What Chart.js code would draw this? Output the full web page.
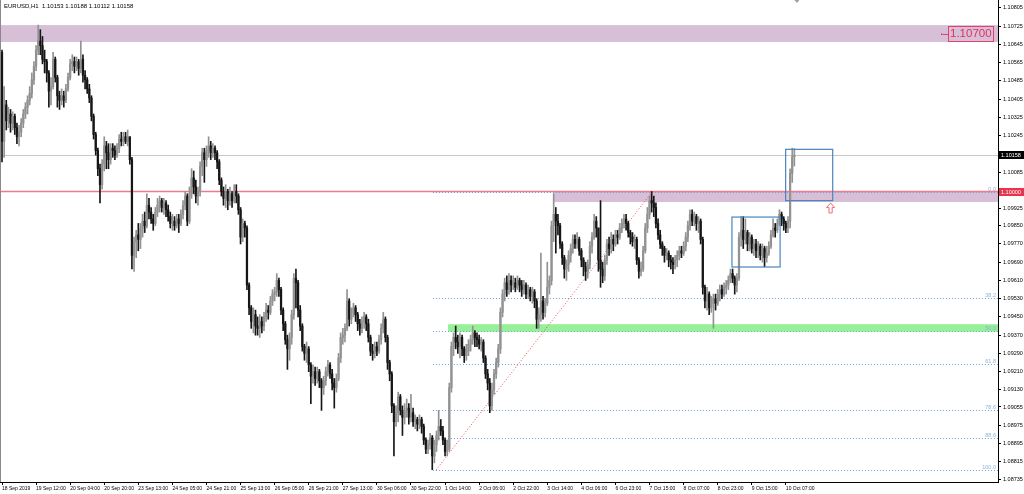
<!DOCTYPE html>
<html>
<head>
<meta charset="utf-8">
<title>EURUSD,H1</title>
<script src="https://cdn.jsdelivr.net/npm/chart.js@4.4.1/dist/chart.umd.min.js"></script>
<style>
    html, body { margin: 0; padding: 0; background: #fff; }
    #chart { display: block; }
</style>
</head>
<body>
<canvas id="chart" width="1024" height="494"></canvas>
<script>
// EURUSD H1, 18 Sep 20:00 -> 10 Oct 11:00 (one entry per hourly bar)
const symbolTitle = 'EURUSD,H1  1.10153 1.10188 1.10112 1.10158';

// open of the first bar; every other open is the previous close
const firstOpen = 1.1061;

const closes = [
    1.1022, 1.1038, 1.1031, 1.1034, 1.1030, 1.1033, 1.1028, 1.1024, 1.1026, 1.1030,
    1.1034, 1.1037, 1.1040, 1.1043, 1.1049, 1.1055, 1.1062, 1.1066, 1.1064, 1.1058,
    1.1057, 1.1052, 1.1044, 1.1046, 1.1058, 1.1050, 1.1042, 1.1040, 1.1042, 1.1040,
    1.1045, 1.1050, 1.1056, 1.1057, 1.1055, 1.1057, 1.1054, 1.1058, 1.1051, 1.1049,
    1.1045, 1.1041, 1.1033, 1.1025, 1.1018, 1.1010, 1.1003, 1.1012, 1.1020, 1.1017,
    1.1014, 1.1019, 1.1018, 1.1016, 1.1019, 1.1023, 1.1022, 1.1024, 1.1022, 1.1024,
    1.1014, 1.0972, 1.0978, 1.0981, 1.0979, 1.0984, 1.0987, 1.0985, 1.0994, 1.0991,
    1.0988, 1.0986, 1.0991, 1.0994, 1.0996, 1.0993, 1.0995, 1.0992, 1.0989, 1.0986,
    1.0987, 1.0985, 1.0988, 1.0986, 1.0990, 1.0994, 1.0998, 1.0987, 1.0999, 1.1006,
    1.1002, 1.0998, 1.1000, 1.1011, 1.1017, 1.1014, 1.1018, 1.1020, 1.1017, 1.1019,
    1.1017, 1.1013, 1.1005, 1.1000, 1.0997, 1.1000, 1.0996, 1.0999, 1.0996, 1.1000,
    1.0998, 1.0992, 1.0980, 1.0986, 1.0984, 1.0959, 1.0949, 1.0943, 1.0946, 1.0941,
    1.0940, 1.0943, 1.0941, 1.0945, 1.0948, 1.0947, 1.0952, 1.0955, 1.0956, 1.0961,
    1.0957, 1.0948, 1.0942, 1.0935, 1.0931, 1.0936, 1.0946, 1.0962, 1.0960, 1.0948,
    1.0941, 1.0932, 1.0929, 1.0931, 1.0924, 1.0919, 1.0921, 1.0918, 1.0921, 1.0917,
    1.0914, 1.0917, 1.0921, 1.0924, 1.0920, 1.0916, 1.0914, 1.0918, 1.0927, 1.0936,
    1.0937, 1.0940, 1.0952, 1.0944, 1.0947, 1.0949, 1.0946, 1.0942, 1.0940, 1.0943,
    1.0945, 1.0942, 1.0936, 1.0930, 1.0929, 1.0932, 1.0930, 1.0935, 1.0940, 1.0944,
    1.0936, 1.0925, 1.0920, 1.0906, 1.0899, 1.0903, 1.0910, 1.0904, 1.0901, 1.0904,
    1.0905, 1.0901, 1.0903, 1.0899, 1.0900, 1.0898, 1.0900, 1.0897, 1.0891, 1.0887,
    1.0889, 1.0892, 1.0884, 1.0889, 1.0893, 1.0897, 1.0895, 1.0891, 1.0886, 1.0887,
    1.0914, 1.0932, 1.0936, 1.0934, 1.0932, 1.0936, 1.0931, 1.0928, 1.0930, 1.0933,
    1.0935, 1.0938, 1.0936, 1.0935, 1.0933, 1.0934, 1.0927, 1.0920, 1.0916, 1.0906,
    1.0913, 1.0920, 1.0925, 1.0931, 1.0947, 1.0955, 1.0960, 1.0957, 1.0961, 1.0959,
    1.0960, 1.0958, 1.0961, 1.0959, 1.0957, 1.0959, 1.0955, 1.0957, 1.0954, 1.0956,
    1.0952, 1.0944, 1.0946, 1.0952, 1.0947, 1.0951, 1.0958, 1.0961, 1.0985, 1.0990,
    1.0987, 1.0985, 1.0977, 1.0971, 1.0966, 1.0968, 1.0972, 1.0975, 1.0979, 1.0977,
    1.0979, 1.0974, 1.0970, 1.0967, 1.0965, 1.0968, 1.0976, 1.0980, 1.0987, 1.0984,
    1.0970, 1.0966, 1.0963, 1.0970, 1.0977, 1.0975, 1.0979, 1.0977, 1.0981, 1.0980,
    1.0984, 1.0986, 1.0988, 1.0986, 1.0982, 1.0980, 1.0978, 1.0979, 1.0970, 1.0965,
    1.0966, 1.0974, 1.0984, 1.0990, 1.0996, 1.0995, 1.0993, 1.0986, 1.0981, 1.0977,
    1.0975, 1.0972, 1.0973, 1.0970, 1.0969, 1.0968, 1.0970, 1.0972, 1.0974, 1.0973,
    1.0976, 1.0980, 1.0985, 1.0990, 1.0987, 1.0989, 1.0986, 1.0987, 1.0979, 1.0958,
    1.0952, 1.0955, 1.0949, 1.0951, 1.0953, 1.0951, 1.0955, 1.0957, 1.0955, 1.0958,
    1.0959, 1.0961, 1.0964, 1.0962, 1.0959, 1.0962, 1.0980, 1.0983, 1.0979, 1.0982,
    1.0977, 1.0980, 1.0975, 1.0977, 1.0974, 1.0976, 1.0972, 1.0975, 1.0971, 1.0973,
    1.0976, 1.0981, 1.0984, 1.0983, 1.0986, 1.0990, 1.0988, 1.0986, 1.0984, 1.0987,
    1.1008, 1.10153, 1.10158
];

const highs = [
    1.1062, 1.1046, 1.1040, 1.1037, 1.1036, 1.1035, 1.1034, 1.1030, 1.1029, 1.1032,
    1.1036, 1.1039, 1.1042, 1.1046, 1.1052, 1.1057, 1.1064, 1.1073, 1.1071, 1.1068,
    1.1062, 1.1058, 1.1053, 1.1050, 1.1061, 1.1059, 1.1051, 1.1044, 1.1045, 1.1044,
    1.1047, 1.1052, 1.1058, 1.1060, 1.1059, 1.1059, 1.1058, 1.1066, 1.1060, 1.1053,
    1.1050, 1.1047, 1.1042, 1.1034, 1.1026, 1.1019, 1.1012, 1.1014, 1.1024, 1.1022,
    1.1021, 1.1021, 1.1021, 1.1020, 1.1021, 1.1025, 1.1026, 1.1026, 1.1026, 1.1027,
    1.1024, 1.1015, 1.0980, 1.0983, 1.0986, 1.0986, 1.0990, 1.0991, 1.0999, 1.0997,
    1.0993, 1.0990, 1.0993, 1.0997, 1.0998, 1.0997, 1.0997, 1.0996, 1.0994, 1.0991,
    1.0990, 1.0989, 1.0990, 1.0990, 1.0992, 1.0996, 1.1000, 1.0999, 1.1002, 1.1010,
    1.1009, 1.1005, 1.1002, 1.1013, 1.1019, 1.1019, 1.1020, 1.1024, 1.1022, 1.1021,
    1.1020, 1.1018, 1.1014, 1.1006, 1.1002, 1.1003, 1.1001, 1.1002, 1.1000, 1.1003,
    1.1003, 1.0999, 1.0993, 1.0988, 1.0987, 1.0985, 1.0960, 1.0950, 1.0949, 1.0948,
    1.0945, 1.0946, 1.0945, 1.0947, 1.0951, 1.0950, 1.0954, 1.0957, 1.0958, 1.0964,
    1.0962, 1.0958, 1.0949, 1.0943, 1.0937, 1.0938, 1.0948, 1.0964, 1.0966, 1.0961,
    1.0950, 1.0942, 1.0933, 1.0934, 1.0932, 1.0925, 1.0924, 1.0923, 1.0923, 1.0922,
    1.0918, 1.0919, 1.0923, 1.0926, 1.0925, 1.0922, 1.0918, 1.0920, 1.0929, 1.0938,
    1.0940, 1.0942, 1.0957, 1.0953, 1.0949, 1.0951, 1.0950, 1.0947, 1.0944, 1.0945,
    1.0947, 1.0946, 1.0944, 1.0937, 1.0933, 1.0934, 1.0934, 1.0937, 1.0942, 1.0947,
    1.0945, 1.0937, 1.0926, 1.0921, 1.0907, 1.0906, 1.0912, 1.0911, 1.0906, 1.0907,
    1.0909, 1.0907, 1.0911, 1.0905, 1.0902, 1.0901, 1.0902, 1.0901, 1.0898, 1.0892,
    1.0891, 1.0894, 1.0893, 1.0891, 1.0895, 1.0904, 1.0900, 1.0897, 1.0892, 1.0891,
    1.0916, 1.0934, 1.0938, 1.0941, 1.0937, 1.0938, 1.0937, 1.0932, 1.0933, 1.0935,
    1.0937, 1.0941, 1.0939, 1.0938, 1.0937, 1.0936, 1.0935, 1.0928, 1.0922, 1.0918,
    1.0916, 1.0922, 1.0927, 1.0933, 1.0949, 1.0957, 1.0962, 1.0963, 1.0964, 1.0963,
    1.0963, 1.0962, 1.0963, 1.0962, 1.0961, 1.0961, 1.0960, 1.0959, 1.0958, 1.0958,
    1.0957, 1.0953, 1.0949, 1.0973, 1.0954, 1.0953, 1.0969, 1.0963, 1.0987, 1.0999,
    1.0993, 1.0990, 1.0986, 1.0978, 1.0972, 1.0970, 1.0974, 1.0977, 1.0981, 1.0981,
    1.0982, 1.0980, 1.0975, 1.0971, 1.0969, 1.0970, 1.0978, 1.0982, 1.0990, 1.0989,
    1.0984, 1.0996, 1.0969, 1.0972, 1.0979, 1.0980, 1.0982, 1.0981, 1.0983, 1.0983,
    1.0986, 1.0988, 1.0990, 1.0990, 1.0987, 1.0983, 1.0982, 1.0981, 1.0980, 1.0971,
    1.0969, 1.0976, 1.0986, 1.0993, 1.0998, 1.1000, 1.0998, 1.0995, 1.0988, 1.0983,
    1.0978, 1.0976, 1.0975, 1.0974, 1.0972, 1.0971, 1.0972, 1.0974, 1.0976, 1.0976,
    1.0978, 1.0982, 1.0987, 1.0992, 1.0992, 1.0991, 1.0990, 1.0989, 1.0988, 1.0980,
    1.0959, 1.0958, 1.0956, 1.0954, 1.0955, 1.0955, 1.0957, 1.0959, 1.0959, 1.0960,
    1.0961, 1.0963, 1.0966, 1.0966, 1.0963, 1.0964, 1.0982, 1.0989, 1.0989, 1.0988,
    1.0983, 1.0982, 1.0981, 1.0979, 1.0979, 1.0978, 1.0977, 1.0977, 1.0976, 1.0976,
    1.0978, 1.0983, 1.0988, 1.0986, 1.0988, 1.0992, 1.0991, 1.0989, 1.0987, 1.0989,
    1.1010, 1.1019, 1.10188
];

const lows = [
    1.1013, 1.1015, 1.1027, 1.1028, 1.1026, 1.1027, 1.1025, 1.1021, 1.1020, 1.1024,
    1.1028, 1.1032, 1.1034, 1.1038, 1.1041, 1.1047, 1.1053, 1.1060, 1.1060, 1.1056,
    1.1052, 1.1048, 1.1037, 1.1038, 1.1045, 1.1048, 1.1037, 1.1036, 1.1038, 1.1037,
    1.1039, 1.1044, 1.1049, 1.1053, 1.1052, 1.1053, 1.1051, 1.1052, 1.1048, 1.1045,
    1.1043, 1.1039, 1.1031, 1.1023, 1.1016, 1.1007, 1.0995, 1.1001, 1.1009, 1.1010,
    1.1010, 1.1012, 1.1015, 1.1014, 1.1015, 1.1017, 1.1020, 1.1020, 1.1021, 1.1020,
    1.1012, 1.0966, 1.0965, 1.0971, 1.0974, 1.0975, 1.0980, 1.0982, 1.0984, 1.0988,
    1.0986, 1.0983, 1.0985, 1.0989, 1.0991, 1.0991, 1.0990, 1.0989, 1.0987, 1.0984,
    1.0983, 1.0983, 1.0984, 1.0982, 1.0985, 1.0988, 1.0992, 1.0985, 1.0986, 1.0997,
    1.0999, 1.0995, 1.0994, 1.0998, 1.1007, 1.1004, 1.1011, 1.1015, 1.1014, 1.1015,
    1.1014, 1.1010, 1.1003, 1.0998, 1.0994, 1.0993, 1.0992, 1.0994, 1.0993, 1.0995,
    1.0995, 1.0990, 1.0977, 1.0978, 1.0980, 1.0957, 1.0946, 1.0940, 1.0938, 1.0937,
    1.0937, 1.0936, 1.0938, 1.0939, 1.0943, 1.0944, 1.0946, 1.0950, 1.0952, 1.0954,
    1.0954, 1.0946, 1.0939, 1.0933, 1.0922, 1.0926, 1.0933, 1.0944, 1.0949, 1.0945,
    1.0939, 1.0930, 1.0926, 1.0925, 1.0921, 1.0907, 1.0916, 1.0915, 1.0916, 1.0914,
    1.0904, 1.0911, 1.0915, 1.0919, 1.0918, 1.0913, 1.0905, 1.0912, 1.0917, 1.0925,
    1.0933, 1.0934, 1.0939, 1.0941, 1.0942, 1.0945, 1.0943, 1.0939, 1.0937, 1.0938,
    1.0940, 1.0939, 1.0934, 1.0928, 1.0926, 1.0927, 1.0928, 1.0929, 1.0933, 1.0938,
    1.0934, 1.0922, 1.0917, 1.0903, 1.0884, 1.0897, 1.0899, 1.0902, 1.0893, 1.0898,
    1.0901, 1.0898, 1.0899, 1.0897, 1.0896, 1.0895, 1.0896, 1.0894, 1.0889, 1.0885,
    1.0885, 1.0887, 1.0878, 1.0881, 1.0886, 1.0891, 1.0893, 1.0889, 1.0884, 1.0884,
    1.0886, 1.0912, 1.0928, 1.0931, 1.0929, 1.0927, 1.0928, 1.0925, 1.0926, 1.0928,
    1.0930, 1.0933, 1.0932, 1.0932, 1.0931, 1.0930, 1.0925, 1.0918, 1.0913, 1.0903,
    1.0904, 1.0911, 1.0918, 1.0923, 1.0929, 1.0945, 1.0952, 1.0954, 1.0955, 1.0956,
    1.0957, 1.0956, 1.0957, 1.0956, 1.0954, 1.0955, 1.0953, 1.0953, 1.0952, 1.0951,
    1.0949, 1.0940, 1.0940, 1.0943, 1.0944, 1.0945, 1.0950, 1.0955, 1.0959, 1.0978,
    1.0973, 1.0981, 1.0975, 1.0968, 1.0962, 1.0961, 1.0965, 1.0969, 1.0973, 1.0975,
    1.0975, 1.0972, 1.0967, 1.0963, 1.0961, 1.0962, 1.0966, 1.0973, 1.0979, 1.0980,
    1.0965, 1.0958, 1.0960, 1.0961, 1.0968, 1.0972, 1.0973, 1.0974, 1.0976, 1.0977,
    1.0979, 1.0982, 1.0984, 1.0983, 1.0980, 1.0977, 1.0976, 1.0975, 1.0968, 1.0962,
    1.0963, 1.0965, 1.0973, 1.0982, 1.0988, 1.0991, 1.0989, 1.0984, 1.0979, 1.0975,
    1.0972, 1.0969, 1.0970, 1.0967, 1.0966, 1.0964, 1.0966, 1.0967, 1.0970, 1.0971,
    1.0972, 1.0974, 1.0978, 1.0983, 1.0985, 1.0985, 1.0983, 1.0982, 1.0977, 1.0955,
    1.0949, 1.0948, 1.0946, 1.0947, 1.0940, 1.0948, 1.0950, 1.0952, 1.0953, 1.0954,
    1.0955, 1.0957, 1.0960, 1.0960, 1.0955, 1.0956, 1.0961, 1.0976, 1.0975, 1.0977,
    1.0974, 1.0974, 1.0973, 1.0972, 1.0971, 1.0971, 1.0970, 1.0969, 1.0967, 1.0969,
    1.0972, 1.0975, 1.0980, 1.0980, 1.0982, 1.0985, 1.0985, 1.0983, 1.0982, 1.0982,
    1.0984, 1.1004, 1.10112
];

// time axis labels, one every 16 bars
const xTickBars = [0, 16, 32, 48, 64, 80, 96, 112, 128, 144, 160, 176,
                   192, 208, 224, 240, 256, 272, 288, 304, 320, 336, 352, 368];
const xTickLabels = ['18 Sep 2019', '19 Sep 12:00', '20 Sep 04:00', '20 Sep 20:00',
    '23 Sep 13:00', '24 Sep 05:00', '24 Sep 21:00', '25 Sep 13:00', '26 Sep 05:00',
    '26 Sep 21:00', '27 Sep 13:00', '30 Sep 06:00', '30 Sep 22:00', '1 Oct 14:00',
    '2 Oct 06:00', '2 Oct 22:00', '3 Oct 14:00', '4 Oct 06:00', '6 Oct 23:00',
    '7 Oct 15:00', '8 Oct 07:00', '8 Oct 23:00', '9 Oct 15:00', '10 Oct 07:00'];

// price scale labels
const yTickValues = [1.10805, 1.10725, 1.10645, 1.10565, 1.10485, 1.10405, 1.10325,
    1.10245, 1.10085, 1.09925, 1.09850, 1.09770, 1.09690, 1.09610, 1.09530, 1.09450,
    1.09370, 1.09290, 1.09210, 1.09130, 1.09055, 1.08975, 1.08895, 1.08815, 1.08735];

// chart objects
const currentPrice = 1.10158;
const roundLevel = 1.10000;
const upperZone = [1.10730, 1.10656];
const upperZoneLabel = '1.10700';
const resistZone = [1.10000, 1.09954];
const supportZone = [1.09418, 1.09385];
const fibHigh = 1.09998;
const fibLow = 1.08779;
const fibLevels = [0, 38.2, 50, 61.8, 78.6, 88.6, 100];
const fibLabels = ['0.0', '38.2', '50.0', '61.8', '78.6', '88.6', '100.0'];
const trendFrom = [203.8, 1.08779];
const trendTo = [305.2, 1.09998];
const boxOne = [342.7, 365.3, 1.09888, 1.09669];
const boxTwo = [367.9, 390.0, 1.10185, 1.09960];
const arrowAt = [389.0, 1.09950];

// visible window
const xMin = -0.94, xMax = 467.6;
const yMin = 1.08726, yMax = 1.10840;

// bar anchors of the drawn objects
const resistFromBar = 258.7;
const supportFromBar = 209.4;
const fibFromBar = 202.3;
const labelBar = 444.6;
const shiftMarkerBar = 373.2;

const BULL = '#929292';
const BEAR = '#161616';
const FONT = 'Liberation Sans, Arial, sans-serif';

const opens = closes.map((c, i) => i === 0 ? firstOpen : closes[i - 1]);
const candleColors = closes.map((c, i) => c >= opens[i] ? BULL : BEAR);

const wickData = closes.map((c, i) => ({
    x: i,
    y: [Math.min(lows[i], opens[i], c), Math.max(highs[i], opens[i], c)]
}));
const bodyData = closes.map((c, i) => ({ x: i, y: [opens[i], c] }));

function priceLabel(ctx, a, y, text, bg, fg) {
    ctx.fillStyle = bg;
    ctx.fillRect(a.right + 1, Math.round(y) - 4, 25, 8);
    ctx.fillStyle = fg;
    ctx.font = '5.5px ' + FONT;
    ctx.textAlign = 'left';
    ctx.textBaseline = 'middle';
    ctx.fillText(text, a.right + 3, Math.round(y) + 0.5);
}

const mtObjects = {
    id: 'mtObjects',
    beforeDatasetsDraw(chart) {
        const { ctx, chartArea: a, scales: { x, y } } = chart;
        ctx.save();
        ctx.beginPath();
        ctx.rect(a.left, a.top, a.right - a.left, a.bottom - a.top);
        ctx.clip();

        // rectangles (drawn as background)
        const zone = (x0, top, bottom, color) => {
            const y0 = y.getPixelForValue(top);
            const y1 = y.getPixelForValue(bottom);
            ctx.fillStyle = color;
            ctx.fillRect(x0, y0, a.right - x0, y1 - y0);
        };
        zone(a.left, upperZone[0], upperZone[1], '#d8bfd8');
        zone(x.getPixelForValue(resistFromBar), resistZone[0], resistZone[1], '#d8bfd8');
        zone(x.getPixelForValue(supportFromBar), supportZone[0], supportZone[1], '#96f096');

        // current price line
        const yc = Math.round(y.getPixelForValue(currentPrice)) + 0.5;
        ctx.strokeStyle = '#c8c8c8';
        ctx.lineWidth = 1;
        ctx.beginPath();
        ctx.moveTo(a.left, yc);
        ctx.lineTo(a.right, yc);
        ctx.stroke();

        // 1.10000 line
        const yr = y.getPixelForValue(roundLevel);
        ctx.strokeStyle = '#ee7b8b';
        ctx.lineWidth = 1.4;
        ctx.beginPath();
        ctx.moveTo(a.left, yr);
        ctx.lineTo(a.right, yr);
        ctx.stroke();

        // fibonacci levels
        const fx = x.getPixelForValue(fibFromBar);
        ctx.setLineDash([1, 2]);
        ctx.lineWidth = 1;
        ctx.strokeStyle = '#6d9fd6';
        fibLevels.forEach(lv => {
            const py = Math.round(y.getPixelForValue(fibHigh - (fibHigh - fibLow) * lv / 100)) + 0.5;
            ctx.beginPath();
            ctx.moveTo(fx, py);
            ctx.lineTo(a.right, py);
            ctx.stroke();
        });

        // fib trend line
        ctx.strokeStyle = '#f24a4a';
        ctx.beginPath();
        ctx.moveTo(x.getPixelForValue(trendFrom[0]), y.getPixelForValue(trendFrom[1]));
        ctx.lineTo(x.getPixelForValue(trendTo[0]), y.getPixelForValue(trendTo[1]));
        ctx.stroke();
        ctx.setLineDash([]);

        ctx.fillStyle = '#8fb2d8';
        ctx.font = '5.5px ' + FONT;
        ctx.textAlign = 'right';
        ctx.textBaseline = 'bottom';
        fibLevels.forEach((lv, i) => {
            const py = y.getPixelForValue(fibHigh - (fibHigh - fibLow) * lv / 100);
            ctx.fillText(fibLabels[i], a.right - 2, py);
        });
        ctx.restore();
    },
    afterDatasetsDraw(chart) {
        const { ctx, chartArea: a, scales: { x, y } } = chart;
        ctx.save();

        // blue boxes
        ctx.strokeStyle = '#4a84be';
        ctx.lineWidth = 1.2;
        [boxOne, boxTwo].forEach(b => {
            const x0 = x.getPixelForValue(b[0]);
            const x1 = x.getPixelForValue(b[1]);
            const y0 = y.getPixelForValue(b[2]);
            const y1 = y.getPixelForValue(b[3]);
            ctx.strokeRect(x0, y0, x1 - x0, y1 - y0);
        });

        // arrow up
        const ax = x.getPixelForValue(arrowAt[0]);
        const ay = y.getPixelForValue(arrowAt[1]);
        ctx.strokeStyle = '#f06a7a';
        ctx.lineWidth = 1;
        ctx.beginPath();
        ctx.moveTo(ax, ay);
        ctx.lineTo(ax + 4, ay + 4.5);
        ctx.lineTo(ax + 1.6, ay + 4.5);
        ctx.lineTo(ax + 1.6, ay + 10);
        ctx.lineTo(ax - 1.6, ay + 10);
        ctx.lineTo(ax - 1.6, ay + 4.5);
        ctx.lineTo(ax - 4, ay + 4.5);
        ctx.closePath();
        ctx.stroke();

        // 1.10700 text label
        const lx = x.getPixelForValue(labelBar);
        const ly = y.getPixelForValue(1.10693);
        ctx.font = '11.5px ' + FONT;
        ctx.textAlign = 'left';
        ctx.textBaseline = 'middle';
        const tw = ctx.measureText(upperZoneLabel).width;
        ctx.strokeStyle = '#e0406a';
        ctx.strokeRect(Math.round(lx) - 0.5, Math.round(ly) - 7.5, Math.round(tw) + 3, 15);
        ctx.fillStyle = '#e0305e';
        ctx.fillText(upperZoneLabel, lx + 1, ly + 0.5);
        ctx.beginPath();
        ctx.moveTo(lx - 6, Math.round(ly) + 0.5);
        ctx.lineTo(lx, Math.round(ly) + 0.5);
        ctx.stroke();
        ctx.fillRect(lx - 8, Math.round(ly) - 0.5, 1.5, 1.5);

        // chart shift marker
        const sx = x.getPixelForValue(shiftMarkerBar);
        ctx.fillStyle = '#a0a0a0';
        ctx.beginPath();
        ctx.moveTo(sx - 2.5, a.top);
        ctx.lineTo(sx + 2.5, a.top);
        ctx.lineTo(sx, a.top + 3);
        ctx.closePath();
        ctx.fill();
        ctx.restore();
    },
    afterDraw(chart) {
        const { ctx, chartArea: a, scales: { y } } = chart;
        ctx.save();
        // window frame on the left
        ctx.strokeStyle = '#8a8a8a';
        ctx.lineWidth = 1;
        ctx.beginPath();
        ctx.moveTo(0.5, 0);
        ctx.lineTo(0.5, a.bottom);
        ctx.stroke();

        priceLabel(ctx, a, y.getPixelForValue(currentPrice), currentPrice.toFixed(5), '#000', '#fff');
        priceLabel(ctx, a, y.getPixelForValue(roundLevel), roundLevel.toFixed(5), '#e8344e', '#fff');

        ctx.fillStyle = '#000';
        ctx.font = '6px ' + FONT;
        ctx.textAlign = 'left';
        ctx.textBaseline = 'middle';
        ctx.fillText(symbolTitle, 4, 6.5);
        ctx.restore();
    }
};

const ctx = document.getElementById('chart');
new Chart(ctx, {
    type: 'bar',
    data: {
        datasets: [
            {
                label: 'wicks',
                data: wickData,
                backgroundColor: candleColors,
                barThickness: 1,
                grouped: false,
                order: 2
            },
            {
                label: 'bodies',
                data: bodyData,
                backgroundColor: candleColors,
                barThickness: 1.6,
                minBarLength: 1,
                grouped: false,
                order: 1
            }
        ]
    },
    options: {
        responsive: false,
        animation: false,
        devicePixelRatio: 1,
        events: [],
        layout: { padding: 0 },
        plugins: {
            legend: { display: false },
            tooltip: { enabled: false }
        },
        scales: {
            x: {
                type: 'linear',
                min: xMin,
                max: xMax,
                offset: false,
                afterFit(s) {
                    s.height = 12;
                    s.paddingLeft = 0;
                    s.paddingRight = 0;
                },
                afterBuildTicks(s) {
                    s.ticks = xTickBars.map(v => ({ value: v }));
                },
                ticks: {
                    autoSkip: false,
                    maxRotation: 0,
                    minRotation: 0,
                    align: 'start',
                    padding: 1,
                    color: '#000',
                    font: { family: FONT, size: 5 },
                    callback: (v, i) => xTickLabels[i]
                },
                grid: { drawOnChartArea: false, offset: false, tickLength: 3, color: '#000' },
                border: { color: '#000', width: 1 }
            },
            y: {
                position: 'right',
                min: yMin,
                max: yMax,
                afterFit(s) {
                    s.width = 26;
                    s.paddingTop = 0;
                    s.paddingBottom = 0;
                },
                afterBuildTicks(s) {
                    s.ticks = yTickValues.map(v => ({ value: v }));
                },
                ticks: {
                    autoSkip: false,
                    padding: 2,
                    color: '#000',
                    font: { family: FONT, size: 5.5 },
                    callback: v => v.toFixed(5)
                },
                grid: { drawOnChartArea: false, tickLength: 3, color: '#000' },
                border: { color: '#000', width: 1 }
            }
        }
    },
    plugins: [mtObjects]
});
</script>
</body>
</html>
